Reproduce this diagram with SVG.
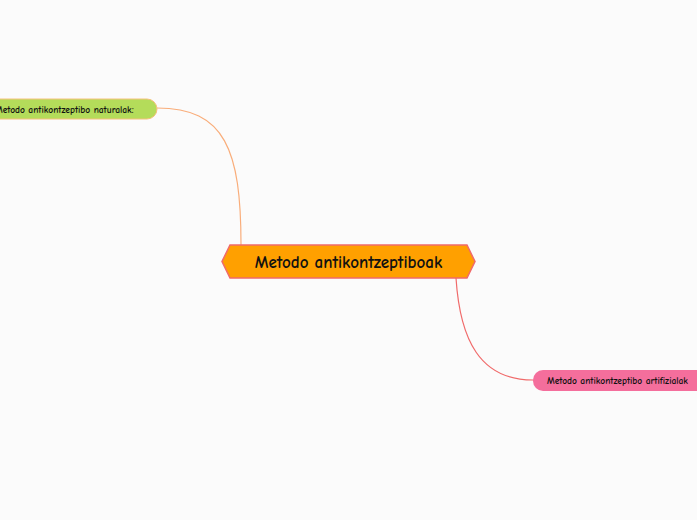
<svg xmlns="http://www.w3.org/2000/svg" width="697" height="520" viewBox="0 0 697 520">
<style>
.t{font-family:"Comic Neue","Liberation Sans",sans-serif;fill:#111;font-weight:bold}
.s{font-size:9.5px}
</style>
<rect width="697" height="520" fill="#fbfbfb"/>
<g id="connectors" fill="none" stroke-width="1.2">
<path d="M241,245 C241,150 225,108 157,108" stroke="#f9ad7a"/>
<path d="M456,278 C460,340 480,380 533,380" stroke="#f06a6a"/>
</g>
<g id="n-natural">
<rect x="-30" y="99" width="187" height="20" rx="10" fill="#b4dc5a" stroke="#f5c27a" stroke-width="1"/>
<text class="t s" x="-5" y="112.5">Metodo antikontzeptibo naturalak:</text>
</g>
<g id="n-center">
<polygon points="230,245 467,245 475,261.5 467,278 230,278 222,261.5" fill="#ffa000" stroke="#f06a6a" stroke-width="1.5"/>
<text class="t" x="348.5" y="267.5" text-anchor="middle" font-size="17">Metodo antikontzeptiboak</text>
</g>
<g id="n-artificial">
<rect x="533" y="370" width="190" height="21" rx="10" fill="#f46e9c"/>
<text class="t s" x="547" y="384">Metodo antikontzeptibo artifizialak</text>
</g>
</svg>
